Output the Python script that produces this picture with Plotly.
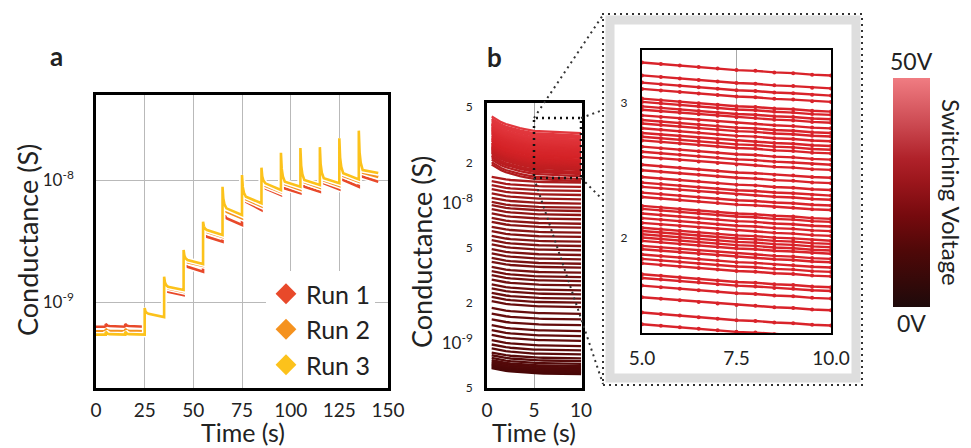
import plotly.graph_objects as go
from plotly.colors import sample_colorscale

W, H = 971, 448


def fx(x):
    return x / W


def fy(y):
    return 1 - y / H


FONT = "Lato"
TXT = "#222222"

# ---------------- Panel a data (conductance in nS) ----------------
step_times = [5, 15, 25, 35, 45, 55, 65, 75, 85, 95, 105, 115, 125, 135]
end_time = 145
run_names = ["Run 1", "Run 2", "Run 3"]
run_colors = ["#e8492a", "#f5921f", "#fcc21b"]

run1_initial = 0.627
run1_peak = [0.66, 0.66, 0.88, 1.40, 2.25, 3.90, 7.0, 9.0, 10.8, 13.5, 15.0, 15.5, 18.0, 20.0]
run1_start = [0.635, 0.635, 0.80, 1.215, 1.947, 3.428, 4.855, 6.64, 8.55, 8.55, 8.81, 9.40, 10.0, 10.64]
run1_end = [0.627, 0.627, 0.75, 1.141, 1.771, 3.12, 4.277, 5.676, 7.535, 7.78, 8.02, 8.39, 8.81, 9.685]

run2_initial = 0.575
run2_peak = [0.60, 0.60, 0.88, 1.50, 2.50, 4.30, 8.0, 10.2, 11.8, 15.0, 16.5, 17.0, 20.0, 22.5]
run2_start = [0.58, 0.58, 0.80, 1.29, 2.12, 3.75, 5.5, 6.95, 8.95, 9.25, 9.6, 9.9, 10.8, 11.5]
run2_end = [0.575, 0.575, 0.75, 1.21, 1.98, 3.42, 4.85, 6.10, 7.95, 8.35, 8.65, 8.95, 9.7, 10.6]

run3_initial = 0.540
run3_peak = [0.57, 0.57, 0.893, 1.612, 2.668, 4.55, 8.81, 11.0, 12.61, 16.74, 18.3, 18.6, 22.0, 25.4]
run3_start = [0.545, 0.545, 0.80, 1.335, 2.21, 3.891, 5.861, 7.297, 9.397, 9.685, 10.0, 10.33, 11.35, 12.08]
run3_end = [0.540, 0.540, 0.753, 1.254, 2.049, 3.54, 5.165, 6.442, 8.279, 8.814, 9.10, 9.397, 10.13, 11.4]

runs = [
    (run1_initial, run1_peak, run1_start, run1_end),
    (run2_initial, run2_peak, run2_start, run2_end),
    (run3_initial, run3_peak, run3_start, run3_end),
]
# shape of the decay after each switching pulse: (seconds after pulse, fraction of the
# log-distance between plateau start and peak that remains)
spike_tail_t = [0.4, 1.0, 2.0]
spike_tail_frac = [0.45, 0.18, 0.0]

# ---------------- Panel b data ----------------
sample_times = [0.5, 1.0, 1.5, 2.0, 2.5, 3.0, 3.5, 4.0, 4.5, 5.0,
                5.5, 6.0, 6.5, 7.0, 7.5, 8.0, 8.5, 9.0, 9.5, 10.0]
# log10 offset of a curve relative to its value at t = 5 s
decay_profile = [0.103, 0.080, 0.062, 0.048, 0.037, 0.028, 0.020, 0.013, 0.006, 0.0,
                 -0.002, -0.004, -0.006, -0.008, -0.010, -0.011, -0.013, -0.014, -0.016, -0.017]
# value at t = 5 s for every switching voltage step (nS), 0 V -> 50 V
levels_nS = [
    0.631, 0.641, 0.652, 0.663, 0.674, 0.685, 0.702, 0.720,
    0.747, 0.781, 0.817, 0.873, 0.932, 1.00, 1.09, 1.18, 1.28, 1.41, 1.55, 1.70,
    1.90, 2.04, 2.18, 2.34, 2.50, 2.71, 2.91, 3.11, 3.34, 3.63, 3.87, 4.16, 4.47,
    4.83, 5.18, 5.56, 6.01, 6.45, 7.00, 7.47, 8.04, 8.62, 9.21, 9.72, 10.39, 11.16,
    11.98, 12.80, 13.67, 14.67,
    15.4, 15.95, 16.7, 17.3, 17.7, 17.9, 18.5, 18.75, 19.0, 19.3, 19.5, 19.8, 20.0,
    20.2, 20.4, 20.6, 20.9, 21.2, 21.5, 21.8, 22.0, 22.6, 22.9, 23.3, 23.6, 24.0,
    24.5, 24.9, 25.5, 25.9, 26.3, 26.8, 27.1, 27.4, 27.8, 28.2, 28.5, 28.9, 29.4,
    29.7, 30.1, 30.4, 31.3, 31.9, 32.6, 33.9,
]
dense_threshold_nS = 15.0
overshoot_dense = 1.0
overshoot_sparse = 0.35
voltage_max = 50

line_scale = [[0.0, "#480707"], [0.1, "#580a0a"], [0.3, "#761111"], [0.45, "#931717"],
              [0.55, "#b81d20"], [0.75, "#d42226"], [1.0, "#e2383e"]]
cbar_scale = [[0.0, "#1e0a0b"], [0.1, "#320909"], [0.25, "#500808"], [0.4, "#760a0e"],
              [0.55, "#9c161c"], [0.65, "#b0222a"], [0.8, "#cc4a52"], [1.0, "#f07c82"]]
inset_color = "#d9232a"

fig = go.Figure()

# ---------------- Panel a traces ----------------
for (init, peaks, starts, ends), name, color in zip(runs, run_names, run_colors):
    t = [0.0]
    g = [init]
    prev = init
    nxt_times = step_times[1:] + [end_time]
    for ts, nt, pk, st, en in zip(step_times, nxt_times, peaks, starts, ends):
        t += [ts, ts]
        g += [prev, pk]
        for dt, fr in zip(spike_tail_t, spike_tail_frac):
            t.append(ts + dt)
            g.append(st * (pk / st) ** fr)
        t.append(nt)
        g.append(en)
        prev = en
    g = [v * 1e-9 for v in g]
    fig.add_trace(go.Scatter(x=t, y=g, mode="lines", line=dict(color="white", width=5.5),
                             showlegend=False, hoverinfo="skip", xaxis="x", yaxis="y"))
    fig.add_trace(go.Scatter(x=t, y=g, mode="lines", line=dict(color=color, width=2.6),
                             showlegend=False, name=name, xaxis="x", yaxis="y"))

for name, color in zip(run_names, run_colors):
    fig.add_trace(go.Scatter(x=[None], y=[None], mode="markers", name=name,
                             marker=dict(symbol="diamond", size=20, color=color),
                             xaxis="x", yaxis="y"))

# ---------------- Panel b + inset traces ----------------
n = len(levels_nS)
fracs = [i / (n - 1) for i in range(n)]
line_cols = sample_colorscale(line_scale, fracs)
for lev, col in zip(levels_nS, line_cols):
    amp = overshoot_dense if lev >= dense_threshold_nS else overshoot_sparse
    ys = [lev * 1e-9 * 10 ** (amp * d) for d in decay_profile]
    fig.add_trace(go.Scatter(x=sample_times, y=ys, mode="lines", line=dict(color=col, width=2.3),
                             showlegend=False, xaxis="x2", yaxis="y2"))
    if lev >= 14.0:
        fig.add_trace(go.Scatter(x=sample_times[9:], y=ys[9:], mode="lines+markers",
                                 line=dict(color=inset_color, width=2.4),
                                 marker=dict(color=inset_color, size=4),
                                 showlegend=False, xaxis="x3", yaxis="y3"))

# colorbar
fig.add_trace(go.Scatter(
    x=[None], y=[None], mode="markers", showlegend=False, xaxis="x2", yaxis="y2",
    marker=dict(color=[0], cmin=0, cmax=voltage_max, colorscale=cbar_scale, showscale=True,
                colorbar=dict(x=fx(893), xanchor="left", xpad=0, thickness=37,
                              lenmode="pixels", len=229, y=fy(192.5), yanchor="middle", ypad=0,
                              showticklabels=False, ticks="", outlinewidth=0))))

axis_common = dict(showline=True, mirror=True, linecolor="black", zeroline=False, ticks="",
                   tickfont=dict(family=FONT, size=19, color=TXT))

fig.update_layout(
    width=W, height=H, margin=dict(l=0, r=0, t=0, b=0, autoexpand=False), autosize=False,
    paper_bgcolor="white", plot_bgcolor="white",
    font=dict(family=FONT, color=TXT),
    showlegend=True,
    legend=dict(x=fx(266), y=fy(271), xanchor="left", yanchor="top", bgcolor="white",
                font=dict(family=FONT, size=25, color=TXT), tracegroupgap=0,
                borderwidth=0),
    xaxis=dict(domain=[fx(96), fx(388)], range=[0, 150], tickvals=[0, 25, 50, 75, 100, 125, 150],
               showgrid=True, gridcolor="#b9b9b9", gridwidth=1, linewidth=2.6,
               ticklabelstandoff=3, anchor="y", **axis_common),
    yaxis=dict(domain=[fy(388), fy(95)], type="log", range=[-9.705, -7.303],
               tickvals=[1e-9, 1e-8], ticktext=["10<sup>-9</sup>", "10<sup>-8</sup>"],
               showgrid=True, gridcolor="#b9b9b9", gridwidth=1, linewidth=2.6,
               ticklabelstandoff=16, anchor="x",
               **{**axis_common, "tickfont": dict(family=FONT, size=17, color=TXT)}),
    xaxis2=dict(domain=[fx(487), fx(582)], range=[0, 10.1], tickvals=[0, 5, 10],
                showgrid=True, gridcolor="#a8a8a8", gridwidth=1, linewidth=2.6,
                ticklabelstandoff=3, anchor="y2", **axis_common),
    yaxis2=dict(domain=[fy(388), fy(103)], type="log", range=[-9.305, -7.271],
                tickvals=[5e-10, 1e-9, 2e-9, 5e-9, 1e-8, 2e-8, 5e-8],
                ticktext=["5", "<span style='font-size:17px'>10<sup>-9</sup></span>", "2", "5",
                          "<span style='font-size:17px'>10<sup>-8</sup></span>", "2", "5"],
                showgrid=False, linewidth=2.6, ticklabelstandoff=9, anchor="x2",
                **{**axis_common, "tickfont": dict(family=FONT, size=12, color=TXT)}),
    xaxis3=dict(domain=[fx(642), fx(831)], range=[5, 10], tickvals=[5, 7.5, 10],
                ticktext=["5.0", "7.5", "10.0"], showgrid=True, gridcolor="#a8a8a8", gridwidth=1,
                linewidth=2.2, ticklabelstandoff=7, anchor="y3", **axis_common),
    yaxis3=dict(domain=[fy(333), fy(50)], type="log", range=[-7.824, -7.4535],
                tickvals=[2e-8, 3e-8], ticktext=["2", "3"], showgrid=False, linewidth=2.2,
                ticklabelstandoff=10, anchor="x3",
                **{**axis_common, "tickfont": dict(family=FONT, size=12, color=TXT)}),
)

ann = []


def add_text(text, x, y, size, angle=0, bold=False):
    if bold:
        text = "<b>" + text + "</b>"
    ann.append(dict(text=text, x=fx(x), y=fy(y), xref="paper", yref="paper", showarrow=False,
                    xanchor="center", yanchor="middle", textangle=angle,
                    font=dict(family=FONT, size=size, color=TXT)))


add_text("a", 56, 56, 26, bold=True)
add_text("b", 494, 57, 26, bold=True)
add_text("Conductance (S)", 27, 240, 27, angle=-90)
add_text("Time (s)", 243, 432, 25)
add_text("Conductance (S)", 421, 252, 27, angle=-90)
add_text("Time (s)", 534, 432, 25)
add_text("50V", 911, 61, 23)
add_text("0V", 911, 323, 23)
add_text("Switching Voltage", 952, 192, 24, angle=90)
fig.update_layout(annotations=ann)

shapes = []
# grey inset frame and dotted outline
shapes.append(dict(type="rect", xref="paper", yref="paper", x0=fx(610), x1=fx(856), y0=fy(378),
                   y1=fy(20), line=dict(color="#dedede", width=9), layer="below"))
dotted = dict(color="#333333", width=2, dash="2px,4px")
shapes.append(dict(type="rect", xref="paper", yref="paper", x0=fx(603), x1=fx(862), y0=fy(385),
                   y1=fy(14), line=dotted))
# zoom rectangle in panel b
shapes.append(dict(type="rect", xref="paper", yref="paper", x0=fx(534), x1=fx(581), y0=fy(178),
                   y1=fy(118), line=dict(color="#111111", width=2.5, dash="2px,4px")))
for (xa, ya, xb, yb) in [(534, 118, 603, 15), (581, 118, 603, 110), (581, 178, 603, 200),
                         (534, 178, 603, 384)]:
    shapes.append(dict(type="line", xref="paper", yref="paper", x0=fx(xa), y0=fy(ya), x1=fx(xb),
                       y1=fy(yb), line=dotted))
# faint horizontal grid at decades in panel b
for dec in [-9, -8]:
    shapes.append(dict(type="line", xref="x2 domain", yref="y2", x0=0, x1=1, y0=dec, y1=dec,
                       line=dict(color="#b0b0b0", width=1), layer="below"))
fig.update_layout(shapes=shapes)

fig.write_html("out.html", config={"displayModeBar": False},
               post_script="document.body.style.margin='0px';document.body.style.overflow='hidden';")
